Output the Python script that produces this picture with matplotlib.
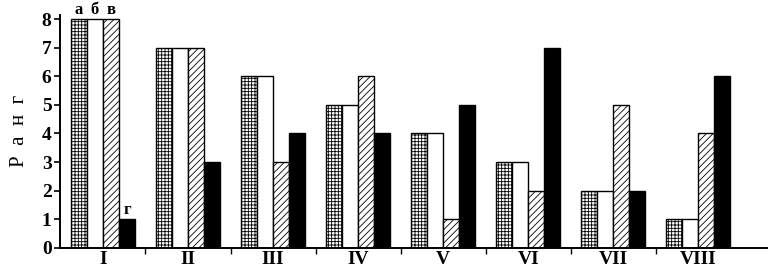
import matplotlib
matplotlib.use("Agg")
import matplotlib.pyplot as plt
import numpy as np

groups = ['I', 'II', 'III', 'IV', 'V', 'VI', 'VII', 'VIII']
rank_a = [8, 7, 6, 5, 4, 3, 2, 1]
rank_b = [8, 7, 6, 5, 4, 3, 2, 1]
rank_v = [8, 7, 3, 6, 1, 2, 5, 4]
rank_g = [1, 3, 4, 4, 5, 7, 2, 6]
series_names = ['а', 'б', 'в', 'г']

plt.rcParams['font.family'] = ['Liberation Serif', 'DejaVu Serif']
plt.rcParams['hatch.linewidth'] = 0.6

fig = plt.figure(figsize=(7.68, 2.68), dpi=100)
ax = fig.add_axes([0.078, 0.075, 0.922, 0.87])

x = np.arange(len(groups))
w = 0.188
styles = [dict(facecolor='white', hatch='+++++'),
          dict(facecolor='white', hatch=''),
          dict(facecolor='white', hatch='/////'),
          dict(facecolor='black', hatch='')]
bars = []
for i, (vals, st) in enumerate(zip([rank_a, rank_b, rank_v, rank_g], styles)):
    b = ax.bar(x + (i - 1.5) * w, vals, w, edgecolor='black', linewidth=1.0, **st)
    bars.append(b)

# series letters above the first group
for b, name in zip(bars, series_names):
    r = b[0]
    ax.text(r.get_x() + r.get_width() / 2, r.get_height() + 0.03, name,
            ha='center', va='bottom', fontsize=12, fontweight='bold')

ax.set_xlim(-0.506, 7.82)
ax.set_ylim(0, 8.15)
ax.set_yticks(range(0, 9))
ax.set_xticks(x)
ax.set_xticklabels(groups, fontsize=14, fontweight='bold')
ax.set_xticks(x[:-1] + 0.5, minor=True)
ax.tick_params(axis='x', which='major', length=0, pad=2)
ax.tick_params(axis='x', which='minor', length=4, width=1, direction='out')
ax.tick_params(axis='y', labelsize=14, length=4, width=1.2, pad=2)
for lab in ax.get_yticklabels():
    lab.set_fontweight('bold')
ax.spines['top'].set_visible(False)
ax.spines['right'].set_visible(False)
ax.spines['left'].set_linewidth(1.4)
ax.spines['bottom'].set_linewidth(1.4)
ax.set_ylabel('Р  а  н  г', fontsize=15, labelpad=9)

fig.savefig('out.png', dpi=100)
